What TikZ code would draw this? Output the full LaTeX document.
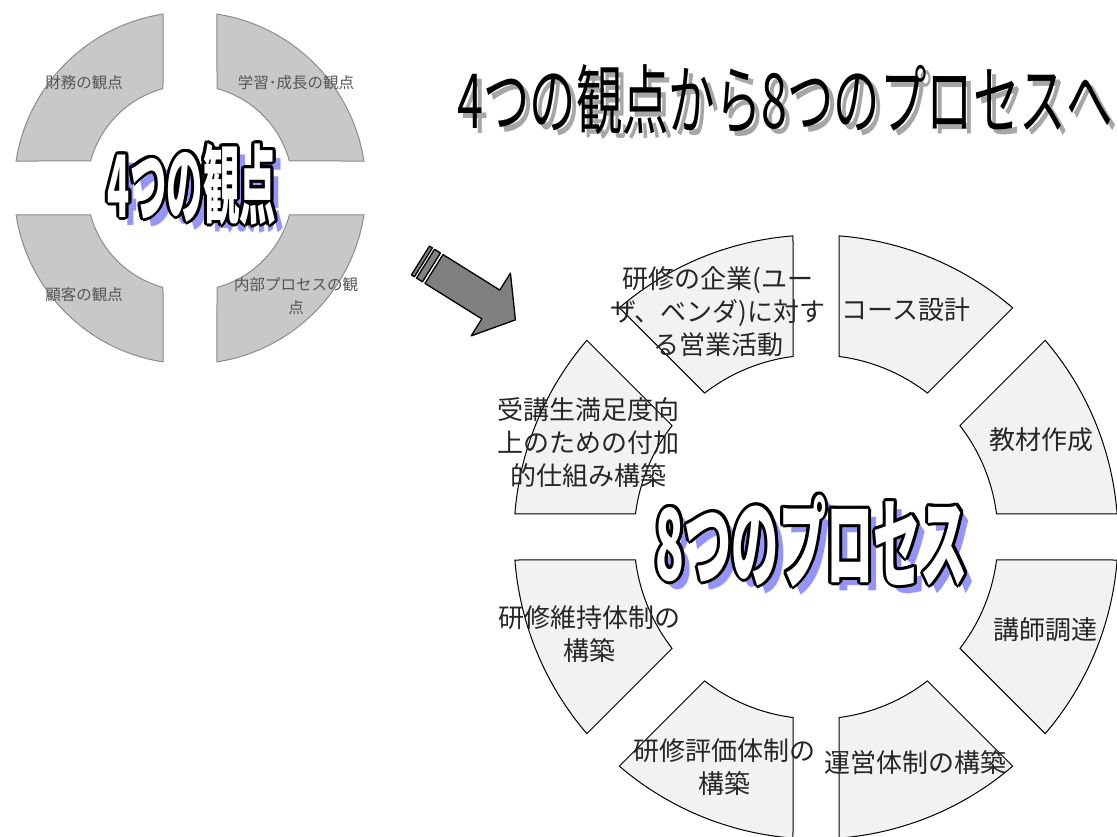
\documentclass[tikz,border=0pt]{standalone}
\usepackage{fontspec}
\usepackage{graphicx}
\setmainfont{Noto Sans CJK JP}
\definecolor{segA}{HTML}{F2F2F2}
\definecolor{segB}{HTML}{C8C8C8}
\definecolor{segBline}{HTML}{8C8C8C}
\definecolor{arrowfill}{HTML}{808080}
\definecolor{shadowblue}{HTML}{9494FF}
\definecolor{shadowgray}{HTML}{A6A6A6}
\definecolor{labelgray}{HTML}{555555}
\newcommand\titletext{\resizebox*{655pt}{70pt}{4つの観点から8つのプロセスへ}}
\newcommand\bigfour{\resizebox*{168pt}{82pt}{\bfseries 4つの観点}}
\newcommand\bigeight{\resizebox*{312pt}{92pt}{\bfseries 8つのプロセス}}
\tikzset{
  segring/.style={fill=segA, draw=black, line width=1pt},
  quadring/.style={fill=segB, draw=segBline, line width=1pt},
  lab8/.style={inner sep=0pt, align=center, text=black!85, font=\fontsize{26}{33}\selectfont},
  lab4/.style={inner sep=0pt, align=center, text=labelgray, font=\fontsize{15.5}{23}\selectfont},
  blockarrow/.style={fill=arrowfill, draw=black, line width=1.3pt, line join=round},
  plain/.style={inner sep=0pt}
}
\begin{document}
\begin{tikzpicture}[x=1pt,y=1pt]
\useasboundingbox (0,0) rectangle (1117,837);
\fill[white] (0,0) rectangle (1117,837);
\begin{scope}
\clip (0,0) rectangle (1117,837);
% ---- left ring of four ----
\begin{scope}[shift={(190,649)}]
\foreach \a in {0,90,180,270}{
  \draw[quadring] ({\a+15.2}:103) -- ({\a+8.82}:176)
    arc[start angle={\a+8.82}, end angle={\a+81.18}, radius=176]
    -- ({\a+74.8}:103)
    arc[start angle={\a+74.8}, end angle={\a+15.2}, radius=103] -- cycle;
}
\end{scope}
\node[lab4] (q1) at (84,754) {財務の観点};
\node[lab4] (q2) at (296,754) {学習･成長の観点};
\node[lab4] (q3) at (84,542) {顧客の観点};
\node[lab4] (q4) at (296,541) {内部プロセスの観\\点};
% big text left
\node[plain, text=shadowblue] (fourshadow) at (200,645) {\bigfour};
\foreach \ang [count=\k] in {0,30,...,330}
  \node[plain, text=black] (fouro\k) at ([shift={(\ang:3)}]192,653) {\bigfour};
\node[plain, text=white] (four) at (192,653) {\bigfour};
% ---- right ring of eight ----
\begin{scope}[shift={(816,300)}]
\foreach \a in {0,45,...,315}{
  \draw[segring] ({\a+7.26}:182) -- ({\a+4.37}:302)
    arc[start angle={\a+4.37}, end angle={\a+40.63}, radius=302]
    -- ({\a+37.74}:182)
    arc[start angle={\a+37.74}, end angle={\a+7.26}, radius=182] -- cycle;
}
\end{scope}
\node[lab8] (p1) at (718,525) {研修の企業(ユー\\ザ、ベンダ)に対す\\る営業活動};
\node[lab8] (p2) at (906,527) {コース設計};
\node[lab8] (p3) at (1041,397) {教材作成};
\node[lab8] (p4) at (1045,207) {講師調達};
\node[lab8] (p5) at (915,74) {運営体制の構築};
\node[lab8] (p6) at (724,70) {研修評価体制の\\構築};
\node[lab8] (p7) at (589,203) {研修維持体制の\\構築};
\node[lab8] (p8) at (588,394) {受講生満足度向\\上のための付加\\的仕組み構築};
% big text right
\node[plain, text=shadowblue] (eightshadow) at (820,288) {\bigeight};
\foreach \ang [count=\k] in {0,30,...,330}
  \node[plain, text=black] (eighto\k) at ([shift={(\ang:3)}]812,296) {\bigeight};
\node[plain, text=white] (eight) at (812,296) {\bigeight};
% ---- title ----
\node[plain, text=shadowgray] (titleshadow) at (790,732) {\titletext};
\node[plain, text=black] (title) at (785,737) {\titletext};
% ---- striped block arrow ----
\begin{scope}[shift={(434,568)}, rotate=-32]
\draw[blockarrow] (0,17) -- (67,17) -- (67,37) -- (96,0) -- (67,-37) -- (67,-17) -- (0,-17) -- cycle;
\draw[blockarrow] (-10,17) rectangle (-3,-17);
\draw[blockarrow] (-16,17) rectangle (-12.5,-17);
\end{scope}
\end{scope}
\end{tikzpicture}
\end{document}
